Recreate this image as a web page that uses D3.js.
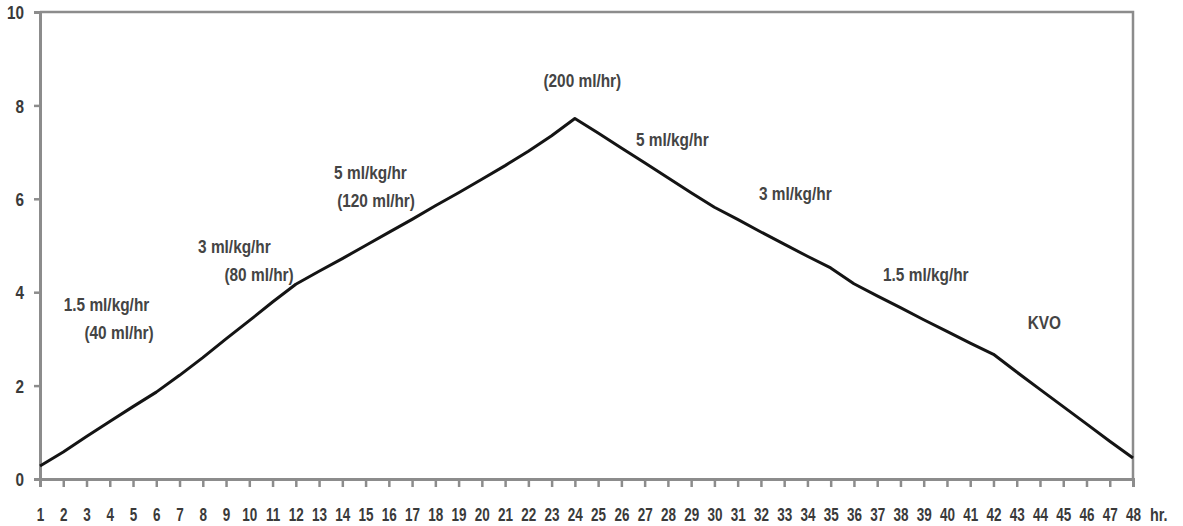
<!DOCTYPE html>
<html>
<head>
<meta charset="utf-8">
<script src="https://cdn.jsdelivr.net/npm/d3@7"></script>
<style>
  html, body { margin: 0; padding: 0; background: #fff; }
  svg text { font-family: "Liberation Sans", Arial, sans-serif; font-weight: bold; }
</style>
</head>
<body>
<svg id="chart" width="1183" height="526"></svg>
<script>
// ---- data ----
const hours = d3.range(1, 49);
const values = [
  0.28, 0.58, 0.91, 1.23, 1.55, 1.86, 2.22, 2.60, 3.00, 3.39,
  3.79, 4.17, 4.45, 4.72, 5.00, 5.28, 5.56, 5.85, 6.13, 6.42,
  6.71, 7.02, 7.35, 7.72, 7.41, 7.09, 6.77, 6.45, 6.13, 5.82,
  5.56, 5.29, 5.03, 4.77, 4.52, 4.18, 3.92, 3.67, 3.41, 3.16,
  2.91, 2.67, 2.29, 1.92, 1.55, 1.18, 0.81, 0.45
];
const yTicks = [0, 2, 4, 6, 8, 10];
const annotationText = [
  "1.5 ml/kg/hr", "(40 ml/hr)", "3 ml/kg/hr", "(80 ml/hr)",
  "5 ml/kg/hr", "(120 ml/hr)", "(200 ml/hr)", "5 ml/kg/hr",
  "3 ml/kg/hr", "1.5 ml/kg/hr", "KVO"
];
// annotation centre in data units (hour, value)
const annotationHour = [3.86, 4.40, 9.36, 10.42, 15.21, 15.45, 24.32, 28.19, 33.48, 39.09, 44.19];
const annotationValue = [3.73, 3.13, 4.97, 4.37, 6.57, 5.97, 8.54, 7.26, 6.12, 4.37, 3.34];
const xUnit = "hr.";

// ---- layout ----
const svg = d3.select("#chart");
const L = 40, R = 1133, T = 12, B = 479;

const x = d3.scaleLinear().domain([1, 48]).range([L, R]);
const y = d3.scaleLinear().domain([0, 10]).range([B, T]);

const axisColor = "#8c8c8c";
const textColor = "#3a3a3a";

// frame (top & right)
svg.append("path")
  .attr("d", `M${L},${T}H${R}V${B}`)
  .attr("fill", "none").attr("stroke", axisColor).attr("stroke-width", 2.5);

// y axis
const yAxis = svg.append("g")
  .attr("transform", `translate(${L},0)`)
  .call(d3.axisLeft(y).tickValues(yTicks).tickSize(6).tickPadding(10).tickFormat(d3.format("d")));
yAxis.select(".domain").attr("stroke", axisColor).attr("stroke-width", 3);
yAxis.selectAll(".tick line").attr("stroke", axisColor).attr("stroke-width", 2.5);
yAxis.selectAll(".tick text")
  .attr("fill", textColor).style("font-size", "18px")
  .attr("x", 0)
  .attr("transform", "translate(-16,1) scale(0.85,1)");

// x axis
const xAxis = svg.append("g")
  .attr("transform", `translate(0,${B})`)
  .call(d3.axisBottom(x).tickValues(hours).tickSize(8).tickPadding(21).tickFormat(d3.format("d")));
xAxis.select(".domain").attr("stroke", axisColor).attr("stroke-width", 3);
xAxis.selectAll(".tick line").attr("stroke", axisColor).attr("stroke-width", 2.5);
xAxis.selectAll(".tick text")
  .attr("fill", textColor).style("font-size", "18px")
  .attr("transform", "scale(0.75,1)");

svg.append("text")
  .attr("transform", `translate(${x(48) + 17},${B + 42}) scale(0.8,1)`)
  .attr("fill", textColor).style("font-size", "18px")
  .text(xUnit);

// line
const line = d3.line()
  .x((d, i) => x(hours[i]))
  .y(d => y(d))
  .curve(d3.curveLinear);
svg.append("path")
  .datum(values)
  .attr("d", line)
  .attr("fill", "none")
  .attr("stroke", "#141414")
  .attr("stroke-width", 3)
  .attr("stroke-linejoin", "round");

// annotations
svg.append("g").selectAll("text")
  .data(annotationText)
  .join("text")
  .attr("transform", (d, i) => `translate(${x(annotationHour[i])},${y(annotationValue[i])}) scale(0.88,1)`)
  .attr("text-anchor", "middle")
  .attr("dominant-baseline", "central")
  .attr("fill", "#444")
  .style("font-size", "17.5px")
  .text(d => d);
</script>
</body>
</html>
